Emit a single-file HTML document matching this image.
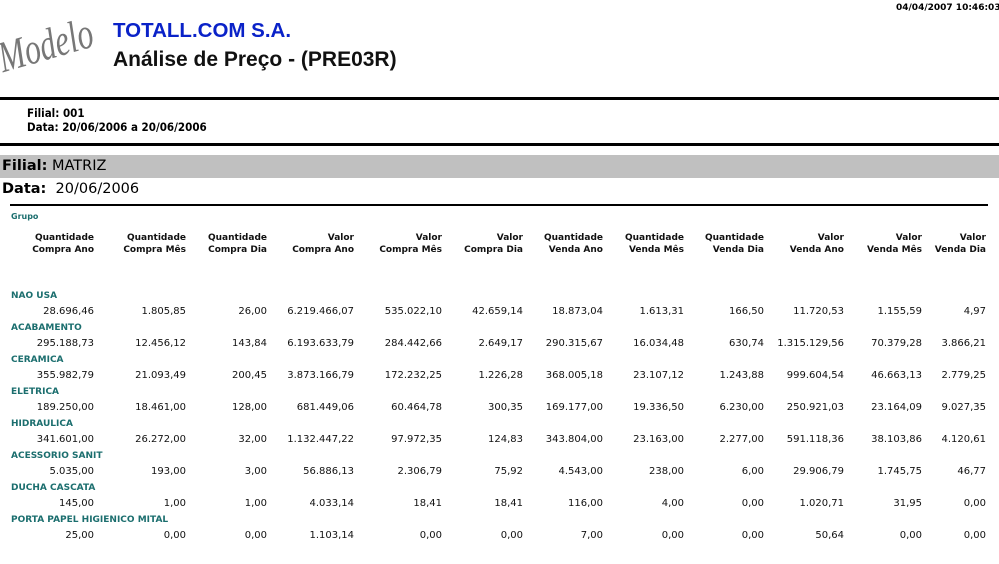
<!DOCTYPE html><html><head><style>
body{margin:0;width:999px;height:564px;background:#fff;position:relative;overflow:hidden;font-family:"DejaVu Sans",sans-serif}
div{position:absolute;white-space:nowrap}
.h{font-weight:bold;font-size:9px;line-height:12px;text-align:right;color:#111}
.g{font-weight:bold;font-size:9px;color:#1b6e6e;left:11px}
.v{font-size:10px;text-align:right;color:#111}
</style></head><body>
<div style="left:896px;top:3px;font:bold 9px 'DejaVu Sans',sans-serif">04/04/2007 10:46:03</div>
<div style="left:6px;top:32px;font:italic 44px 'Liberation Serif',serif;color:#777;transform:rotate(-16deg) scaleX(0.72);transform-origin:left bottom">Modelo</div>
<div style="left:113px;top:19px;font:bold 20.5px 'Liberation Sans',sans-serif;color:#0a22c8">TOTALL.COM S.A.</div>
<div style="left:113px;top:48px;font:bold 21px 'Liberation Sans',sans-serif;color:#111">Análise de Preço - (PRE03R)</div>
<div style="left:0;top:97px;width:999px;height:3px;background:#000"></div>
<div style="left:27px;top:106px;font:bold 11.5px 'DejaVu Sans Condensed','DejaVu Sans',sans-serif;line-height:14px">Filial: 001<br>Data: 20/06/2006 a 20/06/2006</div>
<div style="left:0;top:143px;width:999px;height:3px;background:#000"></div>
<div style="left:0;top:155px;width:999px;height:23px;background:#c0c0c0"></div>
<div style="left:2px;top:158px;font-size:14.5px"><b>Filial:</b> MATRIZ</div>
<div style="left:2px;top:181px;font-size:14.5px"><b>Data:</b>&nbsp; 20/06/2006</div>
<div style="left:10px;top:204px;width:978px;height:2px;background:#000"></div>
<div class="g" style="top:212px;font-size:8px">Grupo</div>
<div id="c"></div>
<script>
var R=[94,186,267,354,442,523,603,684,764,844,922,986];
var H=[["Quantidade","Compra Ano"],["Quantidade","Compra Mês"],["Quantidade","Compra Dia"],["Valor","Compra Ano"],["Valor","Compra Mês"],["Valor","Compra Dia"],["Quantidade","Venda Ano"],["Quantidade","Venda Mês"],["Quantidade","Venda Dia"],["Valor","Venda Ano"],["Valor","Venda Mês"],["Valor","Venda Dia"]];
var D=[["NAO USA","28.696,46|1.805,85|26,00|6.219.466,07|535.022,10|42.659,14|18.873,04|1.613,31|166,50|11.720,53|1.155,59|4,97"],
["ACABAMENTO","295.188,73|12.456,12|143,84|6.193.633,79|284.442,66|2.649,17|290.315,67|16.034,48|630,74|1.315.129,56|70.379,28|3.866,21"],
["CERAMICA","355.982,79|21.093,49|200,45|3.873.166,79|172.232,25|1.226,28|368.005,18|23.107,12|1.243,88|999.604,54|46.663,13|2.779,25"],
["ELETRICA","189.250,00|18.461,00|128,00|681.449,06|60.464,78|300,35|169.177,00|19.336,50|6.230,00|250.921,03|23.164,09|9.027,35"],
["HIDRAULICA","341.601,00|26.272,00|32,00|1.132.447,22|97.972,35|124,83|343.804,00|23.163,00|2.277,00|591.118,36|38.103,86|4.120,61"],
["ACESSORIO SANIT","5.035,00|193,00|3,00|56.886,13|2.306,79|75,92|4.543,00|238,00|6,00|29.906,79|1.745,75|46,77"],
["DUCHA CASCATA","145,00|1,00|1,00|4.033,14|18,41|18,41|116,00|4,00|0,00|1.020,71|31,95|0,00"],
["PORTA PAPEL HIGIENICO MITAL","25,00|0,00|0,00|1.103,14|0,00|0,00|7,00|0,00|0,00|50,64|0,00|0,00"]];
var s="";
R.forEach(function(r,i){s+='<div class="h" style="right:'+(999-r)+'px;top:232px">'+H[i][0]+'<br>'+H[i][1]+'</div>';});
D.forEach(function(d,k){var y=291+k*32;s+='<div class="g" style="top:'+y+'px">'+d[0]+'</div>';
d[1].split("|").forEach(function(v,i){s+='<div class="v" style="right:'+(999-R[i])+'px;top:'+(y+15)+'px">'+v+'</div>';});});
document.getElementById("c").outerHTML=s;
</script>
</body></html>
